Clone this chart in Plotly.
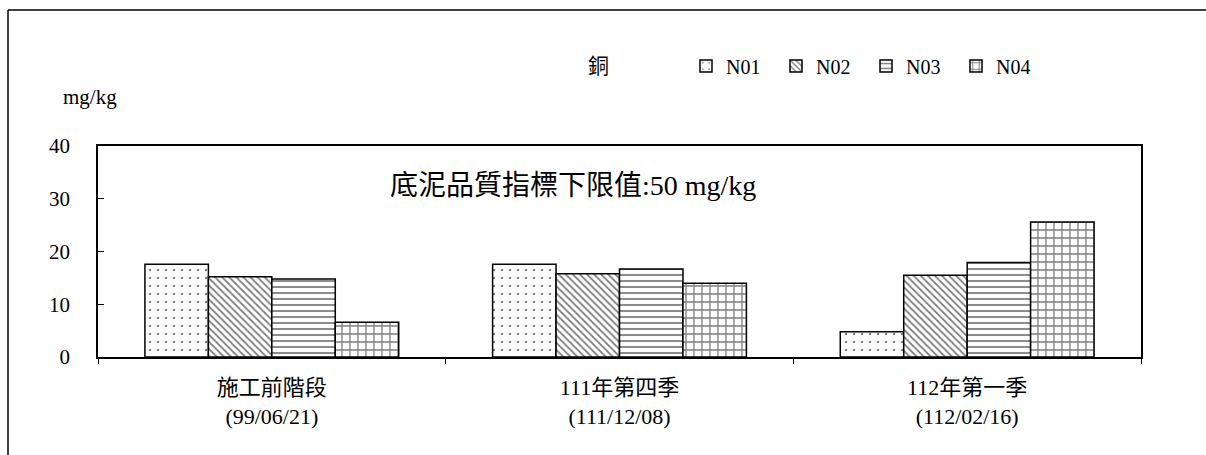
import plotly.graph_objects as go

# Sediment copper concentration (mg/kg) by survey period and station
categories = ["施工前階段<br>(99/06/21)", "111年第四季<br>(111/12/08)", "112年第一季<br>(112/02/16)"]
series_names = ["N01", "N02", "N03", "N04"]
n01 = [17.6, 17.6, 4.8]
n02 = [15.2, 15.8, 15.5]
n03 = [14.8, 16.7, 17.9]
n04 = [6.6, 14.0, 25.6]
y_ticks = [0, 10, 20, 30, 40]

series_values = [n01, n02, n03, n04]
patterns = [".", "\\", "-", "+"]
pattern_sizes = [8, 5, 6, 8]
pattern_solidity = [0.08, 0.35, 0.3, 0.3]

SERIF = "Liberation Serif, Noto Sans CJK TC, serif"
CJK = "Noto Sans CJK TC, Liberation Serif, serif"

W, H = 1206, 455
L, R, T, B = 98, 65, 146, 98
pw, ph = W - L - R, H - T - B


def px_x(x):
    return (x - L) / pw


def px_y(y):
    return (H - B - y) / ph


fig = go.Figure()
for name, vals, shp, sz, sol in zip(series_names, series_values, patterns,
                                    pattern_sizes, pattern_solidity):
    fig.add_trace(go.Bar(
        name=name,
        x=categories,
        y=vals,
        marker=dict(
            color="white",
            line=dict(color="black", width=1.5),
            pattern=dict(shape=shp, fgcolor="black", bgcolor="white",
                         size=sz, solidity=sol, fillmode="overlay"),
        ),
    ))

fig.update_layout(
    width=W, height=H,
    margin=dict(l=L, r=R, t=T, b=B, autoexpand=False),
    paper_bgcolor="white",
    plot_bgcolor="white",
    barmode="group",
    bargap=0.27,
    bargroupgap=0,
    font=dict(family=SERIF, color="black", size=18),
    showlegend=True,
    legend=dict(
        orientation="h",
        x=px_x(686), y=px_y(66),
        xanchor="left", yanchor="middle",
        font=dict(family=SERIF, size=20),
        itemwidth=30,
        entrywidth=45,
        tracegroupgap=0,
        bgcolor="rgba(0,0,0,0)",
    ),
    xaxis=dict(
        type="category",
        showline=True, linecolor="black", linewidth=1.5, mirror=True,
        ticks="outside", ticklen=5, tickcolor="black", tickwidth=1,
        tickson="boundaries",
        tickfont=dict(family=SERIF, size=22),
        ticklabelstandoff=10,
        showgrid=False,
    ),
    yaxis=dict(
        range=[0, 40],
        tickvals=y_ticks,
        showline=True, linecolor="black", linewidth=1.5, mirror=True,
        ticks="inside", ticklen=6, tickcolor="black", tickwidth=1,
        tickfont=dict(family=SERIF, size=21),
        ticklabelstandoff=22,
        showgrid=False, zeroline=False,
    ),
)

# Outer frame around the chart (left and top edges)
fig.add_shape(type="line", xref="paper", yref="paper",
              x0=px_x(8), x1=px_x(8), y0=px_y(10), y1=px_y(H),
              line=dict(color="black", width=1.5))
fig.add_shape(type="line", xref="paper", yref="paper",
              x0=px_x(8), x1=px_x(W), y0=px_y(10), y1=px_y(10),
              line=dict(color="black", width=1.5))

# Title, unit label and reference-limit note
fig.add_annotation(text="銅", xref="paper", yref="paper",
                   x=px_x(598), y=px_y(64), showarrow=False,
                   font=dict(family=CJK, size=21), xanchor="center", yanchor="middle")
fig.add_annotation(text="mg/kg", xref="paper", yref="paper",
                   x=px_x(90), y=px_y(97), showarrow=False,
                   font=dict(family=SERIF, size=21), xanchor="center", yanchor="middle")
fig.add_annotation(text="底泥品質指標下限值:50 mg/kg", xref="paper", yref="paper",
                   x=px_x(573), y=px_y(185), showarrow=False,
                   font=dict(family="Liberation Serif, Noto Sans CJK TC", size=28),
                   xanchor="center", yanchor="middle")

fig.write_html("out.html")
